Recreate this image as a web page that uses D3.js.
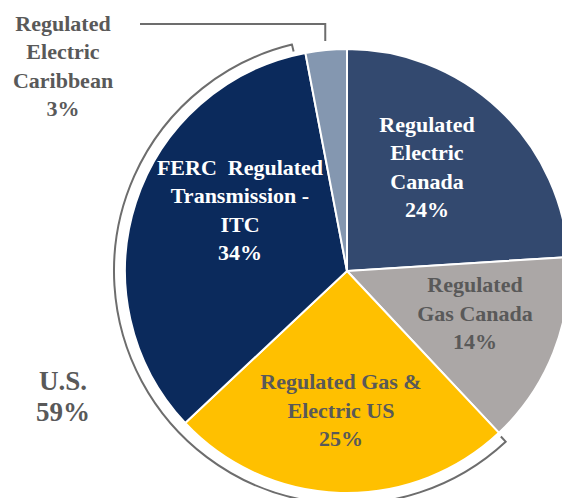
<!DOCTYPE html>
<html>
<head>
<meta charset="utf-8">
<script src="https://cdn.jsdelivr.net/npm/d3@7"></script>
<style>
  body { margin: 0; background: #fff; }
  svg text { font-family: "Liberation Serif", serif; font-weight: bold; }
</style>
</head>
<body>
<svg id="chart"></svg>
<script>
// segments, clockwise from 12 o'clock
var segments = ["Regulated Electric Canada", "Regulated Gas Canada", "Regulated Gas & Electric US",
                "FERC Regulated Transmission - ITC", "Regulated Electric Caribbean"];
var shares = [24, 14, 25, 34, 3];
var labelLines = [
  ["Regulated", "Electric", "Canada", "24%"],
  ["Regulated", "Gas Canada", "14%"],
  ["Regulated Gas &", "Electric US", "25%"],
  ["FERC  Regulated", "Transmission -", "ITC", "34%"],
  ["Regulated", "Electric", "Caribbean", "3%"]
];
var usLabel = ["U.S.", "59%"];
var usSegments = ["Regulated Gas & Electric US", "FERC Regulated Transmission - ITC"];

var colors = ["#33496f", "#aba7a6", "#ffc000", "#0b2a5c", "#8497b0"];
var textColors = ["#fff", "#595959", "#595959", "#fff", "#595959"];
// label centres (layout only)
var labelPos = [[427, 167], [475, 313], [341, 410], [240, 210], [63, 66]];

var width = 562, height = 498;
var cx = 347, cy = 271, R = 222;

var svg = d3.select("#chart").attr("width", width).attr("height", height);
var g = svg.append("g").attr("transform", "translate(" + cx + "," + cy + ")");

var data = segments.map((s, i) => ({name: s, value: shares[i], i: i}));
var pie = d3.pie().sort(null).value(d => d.value);
var arcs = pie(data);
var arc = d3.arc().innerRadius(0).outerRadius(R);

g.selectAll("path.slice")
  .data(arcs)
  .enter()
  .append("path")
    .attr("class", "slice")
    .attr("d", arc)
    .attr("fill", d => colors[d.data.i])
    .attr("stroke", "#fff")
    .attr("stroke-width", 2);

// bracket around the U.S. segments
var usArcs = arcs.filter(a => usSegments.includes(a.data.name));
var a0 = d3.min(usArcs, a => a.startAngle) + 0.005;
var a1 = d3.max(usArcs, a => a.endAngle) - 0.05;
var rOut = 233, rIn = 226;
function pt(r, a) { return [r * Math.sin(a), -r * Math.cos(a)]; }
var bp = d3.path();
var p = pt(rIn, a0); bp.moveTo(p[0], p[1]);
p = pt(rOut, a0); bp.lineTo(p[0], p[1]);
bp.arc(0, 0, rOut, a0 - Math.PI / 2, a1 - Math.PI / 2, false);
p = pt(rIn, a1); bp.lineTo(p[0], p[1]);
g.append("path")
  .attr("d", bp.toString())
  .attr("fill", "none")
  .attr("stroke", "#6d6d6d")
  .attr("stroke-width", 2);

// leader line for the small Caribbean slice
var carib = arcs[4];
var cm = (carib.startAngle + carib.endAngle) / 2;
var lp = pt(R + 9, cm);
g.append("path")
  .attr("d", "M" + lp[0] + "," + (lp[1]) + "V" + (24 - cy) + "H" + (140 - cx))
  .attr("fill", "none")
  .attr("stroke", "#6d6d6d")
  .attr("stroke-width", 2);

// slice labels
var lineH = 28.5;
labelLines.forEach((lines, i) => {
  var t = svg.append("text")
    .attr("text-anchor", "middle")
    .attr("fill", textColors[i])
    .style("font-size", "22px");
  var y0 = labelPos[i][1] - (lines.length - 1) * lineH / 2;
  lines.forEach((l, j) => {
    t.append("tspan")
      .attr("x", labelPos[i][0])
      .attr("y", y0 + j * lineH)
      .attr("dy", "0.35em")
      .attr("xml:space", "preserve")
      .text(l);
  });
});

var ut = svg.append("text")
  .attr("text-anchor", "middle")
  .attr("fill", "#595959")
  .style("font-size", "27px");
usLabel.forEach((l, j) => {
  ut.append("tspan").attr("x", 63).attr("y", 381 + j * 31).attr("dy", "0.35em").text(l);
});
</script>
</body>
</html>
